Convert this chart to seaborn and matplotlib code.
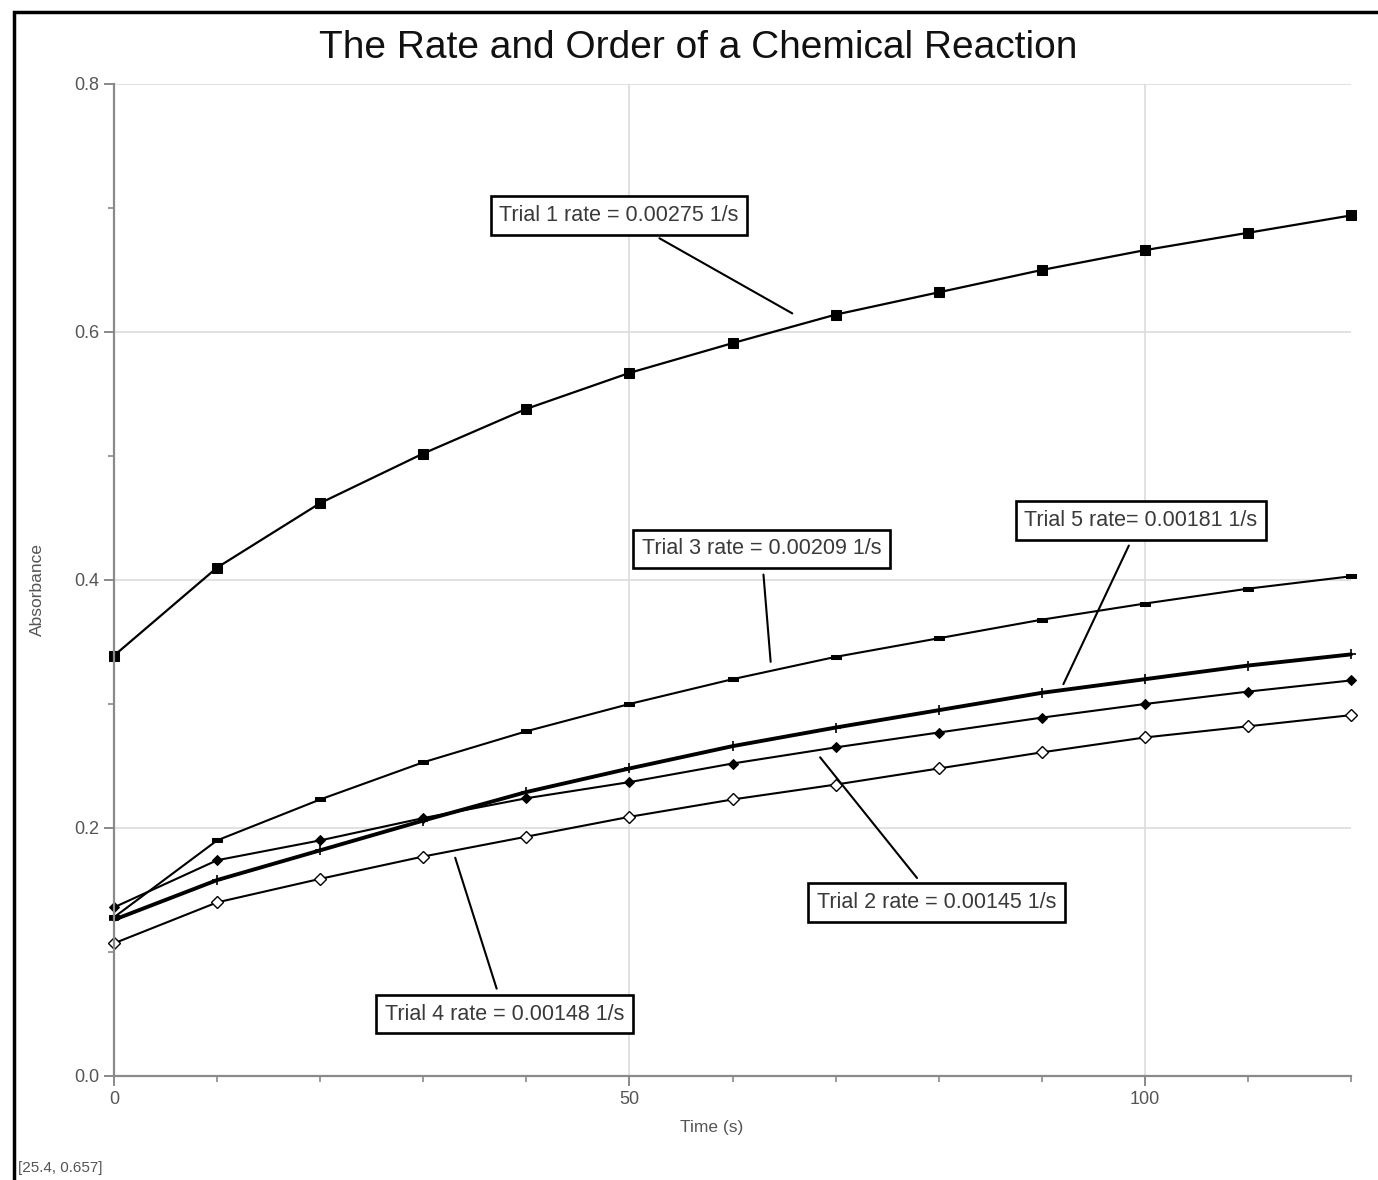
#librerias
import numpy as np
import pandas as pd
import seaborn as sns
import matplotlib.pyplot as plt
from matplotlib.patches import Rectangle
from matplotlib.ticker import MultipleLocator, FormatStrFormatter

# Datos (tiempo en s, absorbancia)
tiempo = [0, 10, 20, 30, 40, 50, 60, 70, 80, 90, 100, 110, 120]
trial1 = [0.339, 0.410, 0.462, 0.502, 0.538, 0.567, 0.591, 0.614, 0.632, 0.650, 0.666, 0.680, 0.694]
trial2 = [0.136, 0.174, 0.190, 0.208, 0.224, 0.237, 0.252, 0.265, 0.277, 0.289, 0.300, 0.310, 0.319]
trial3 = [0.128, 0.190, 0.223, 0.253, 0.278, 0.300, 0.320, 0.338, 0.353, 0.368, 0.381, 0.393, 0.403]
trial4 = [0.107, 0.140, 0.159, 0.177, 0.193, 0.209, 0.223, 0.235, 0.248, 0.261, 0.273, 0.282, 0.291]
trial5 = [0.126, 0.158, 0.182, 0.206, 0.229, 0.248, 0.266, 0.281, 0.295, 0.309, 0.320, 0.331, 0.340]

# Etiquetas de las cajas: texto, centro de la caja, punto al que apunta
etiquetas = ["Trial 1 rate = 0.00275 1/s", "Trial 3 rate = 0.00209 1/s",
             "Trial 5 rate= 0.00181 1/s", "Trial 2 rate = 0.00145 1/s",
             "Trial 4 rate = 0.00148 1/s"]
caja_x = [49.0, 62.8, 99.6, 79.8, 37.9]
caja_y = [0.694, 0.425, 0.448, 0.140, 0.050]
punta_x = [65.8, 63.7, 92.1, 68.5, 33.1]
punta_y = [0.615, 0.334, 0.316, 0.257, 0.176]

df = pd.DataFrame({"Time (s)": tiempo, "Trial 1": trial1, "Trial 2": trial2,
                   "Trial 3": trial3, "Trial 4": trial4, "Trial 5": trial5})

sns.set_style("white")
plt.rcParams['font.family'] = ['Liberation Sans', 'DejaVu Sans']

fig = plt.figure(figsize=(13.78, 11.8), dpi=100)
ax = fig.add_axes([114/1378, 1 - 1076/1180, (1351 - 114)/1378, (1076 - 84)/1180])

# marcador de barra horizontal para el trial 3
barra = [(-1.3, -0.55), (1.3, -0.55), (1.3, 0.55), (-1.3, 0.55), (-1.3, -0.55)]

estilos = {
    "Trial 4": dict(marker="D", markersize=6, markerfacecolor="white", markeredgecolor="black",
                    markeredgewidth=1.0, linewidth=1.5),
    "Trial 2": dict(marker="D", markersize=5, markerfacecolor="black", markeredgecolor="black",
                    linewidth=1.5),
    "Trial 5": dict(marker="+", markersize=7, markeredgecolor="black", markeredgewidth=1.2,
                    linewidth=2.8),
    "Trial 3": dict(marker=barra, markersize=7, markerfacecolor="black", markeredgecolor="black",
                    linewidth=1.5),
    "Trial 1": dict(marker="s", markersize=7.5, markerfacecolor="black", markeredgecolor="black",
                    linewidth=1.6),
}
for trial, st in estilos.items():
    sns.lineplot(data=df, x="Time (s)", y=trial, ax=ax, color="black", clip_on=False, **st)

ax.set_xlim(0, 120)
ax.set_ylim(0, 0.8)
ax.xaxis.set_major_locator(MultipleLocator(50))
ax.xaxis.set_minor_locator(MultipleLocator(10))
ax.yaxis.set_major_locator(MultipleLocator(0.2))
ax.yaxis.set_minor_locator(MultipleLocator(0.1))
ax.yaxis.set_major_formatter(FormatStrFormatter("%.1f"))
ax.grid(True, which="major", color="#dcdcdc", linewidth=1.2)
ax.set_axisbelow(True)

for lado in ["top", "right"]:
    ax.spines[lado].set_visible(False)
for lado in ["left", "bottom"]:
    ax.spines[lado].set_color("#8a8a8a")
    ax.spines[lado].set_linewidth(1.6)

ax.tick_params(axis="both", which="major", direction="out", length=7, width=1.4,
               color="#8a8a8a", labelsize=13, labelcolor="#555555", left=True, bottom=True)
ax.tick_params(axis="both", which="minor", direction="out", length=4, width=1.2,
               color="#8a8a8a", left=True, bottom=True)

ax.set_xlabel("Time (s)", fontsize=12.5, color="#555555")
ax.set_ylabel("Absorbance", fontsize=12.5, color="#555555")
ax.xaxis.set_label_coords(0.483, -0.044)
ax.yaxis.set_label_coords(-0.056, 0.49)

# cajas con lineas guia
for txt, cx, cy, px, py in zip(etiquetas, caja_x, caja_y, punta_x, punta_y):
    ax.annotate(txt, xy=(px, py), xytext=(cx, cy), ha="center", va="center",
                fontsize=15.5, color="#3a3a3a",
                bbox=dict(boxstyle="square,pad=0.4", facecolor="white", edgecolor="black",
                          linewidth=1.9),
                arrowprops=dict(arrowstyle="-", color="black", linewidth=1.5,
                                shrinkA=4, shrinkB=0, relpos=(0.5, 0.5)),
                zorder=5)

# titulo y texto de coordenadas
fig.text(0.5065, 0.959, "The Rate and Order of a Chemical Reaction", ha="center", va="center",
         fontsize=28, color="#111111")
fig.text(0.013, 0.010, "[25.4, 0.657]", fontsize=11, color="#555555", va="center")

# marco negro alrededor de la figura
fig.patches.append(Rectangle((14/1378, -0.05), 1.1, 1 - 12/1180 + 0.05, transform=fig.transFigure,
                             fill=False, edgecolor="black", linewidth=2.5))

fig.savefig("out.png", dpi=100)
